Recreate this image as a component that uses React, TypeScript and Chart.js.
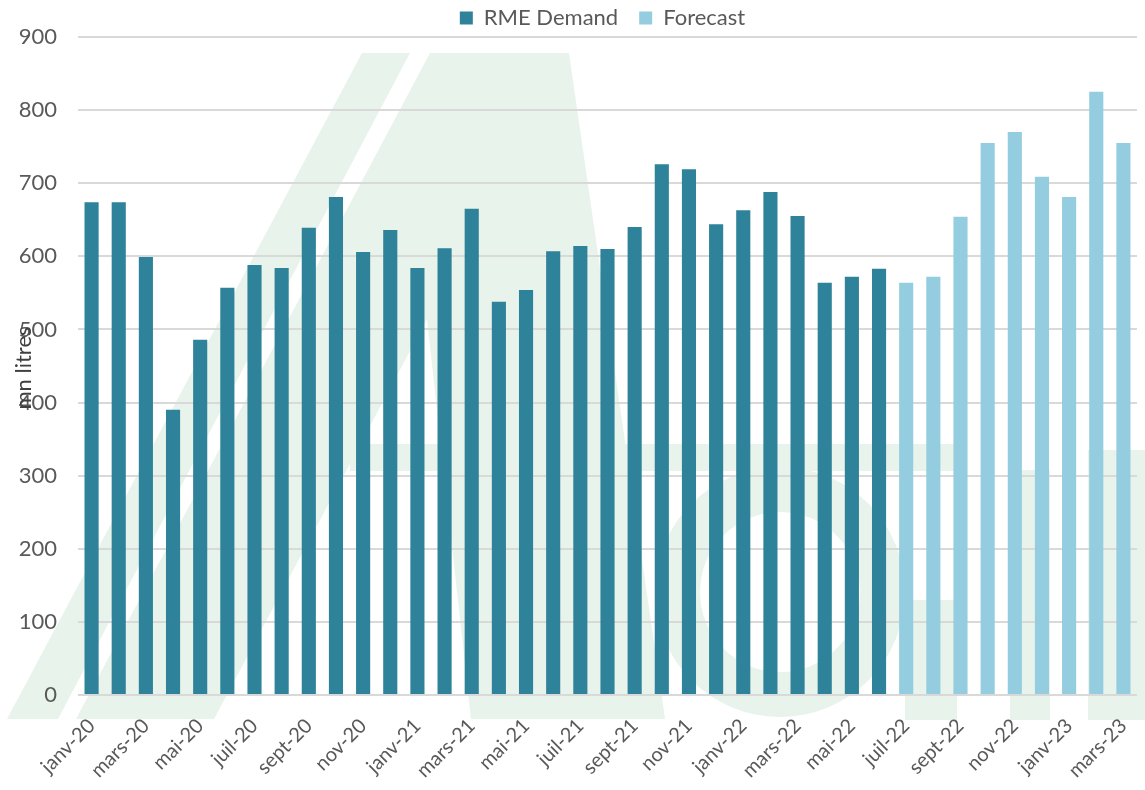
import React, { useEffect, useRef } from "react";
import { Chart, registerables } from "chart.js";

Chart.register(...registerables);

const months: string[] = [
  "janv-20", "févr-20", "mars-20", "avr-20", "mai-20", "juin-20",
  "juil-20", "août-20", "sept-20", "oct-20", "nov-20", "déc-20",
  "janv-21", "févr-21", "mars-21", "avr-21", "mai-21", "juin-21",
  "juil-21", "août-21", "sept-21", "oct-21", "nov-21", "déc-21",
  "janv-22", "févr-22", "mars-22", "avr-22", "mai-22", "juin-22",
  "juil-22", "août-22", "sept-22", "oct-22", "nov-22", "déc-22",
  "janv-23", "févr-23", "mars-23",
];

const demandValues: (number | null)[] = [
  674, 674, 599, 390, 486, 557, 588, 584, 639, 681, 606, 636,
  584, 611, 665, 538, 554, 607, 614, 610, 640, 726, 719, 644,
  663, 688, 655, 564, 572, 583,
  null, null, null, null, null, null, null, null, null,
];

const forecastValues: (number | null)[] = [
  null, null, null, null, null, null, null, null, null, null, null, null,
  null, null, null, null, null, null, null, null, null, null, null, null,
  null, null, null, null, null, null,
  564, 572, 654, 755, 770, 709, 681, 825, 755,
];

const yTicks = { min: 0, max: 900, step: 100 };
const yTitle = "mn litres";

const FONT = "Lato, 'Noto Sans', sans-serif";
const TEXT = "#595959";

const watermarkPlugin = {
  id: "watermark",
  beforeDraw(chart: any) {
    const ctx = chart.ctx;
    ctx.save();
    ctx.fillStyle = "#E8F3EB";
    // left stripe
    ctx.beginPath();
    ctx.moveTo(362, 53);
    ctx.lineTo(410, 53);
    ctx.lineTo(58, 719);
    ctx.lineTo(7, 719);
    ctx.closePath();
    ctx.fill();
    // "A" shape
    ctx.beginPath();
    ctx.moveTo(430, 53);
    ctx.lineTo(569, 53);
    ctx.lineTo(665, 719);
    ctx.lineTo(471, 719);
    ctx.lineTo(427, 319);
    ctx.lineTo(214, 719);
    ctx.lineTo(76, 719);
    ctx.closePath();
    ctx.fill();
    // crossbar
    ctx.fillRect(350, 444, 605, 27);
    // ring
    ctx.beginPath();
    ctx.arc(780, 592, 125, 0, Math.PI * 2, false);
    ctx.arc(780, 592, 80, 0, Math.PI * 2, true);
    ctx.closePath();
    ctx.fill();
    // right side letters
    ctx.fillRect(905, 600, 52, 120);
    ctx.fillRect(1010, 470, 40, 250);
    ctx.fillRect(1088, 450, 57, 270);
    ctx.restore();
  },
};

const yTitlePlugin = {
  id: "yTitleOverlay",
  afterDraw(chart: any) {
    const ctx = chart.ctx;
    ctx.save();
    ctx.translate(24, 368);
    ctx.rotate(-Math.PI / 2);
    ctx.font = `22px ${FONT}`;
    ctx.fillStyle = "#404040";
    ctx.textAlign = "center";
    ctx.textBaseline = "middle";
    ctx.fillText(yTitle, 0, 0);
    ctx.restore();
  },
};

// moves the legend box up/right (keeps item spacing, bottom edge unchanged)
const legendShiftPlugin = {
  id: "legendShift",
  afterLayout(chart: any) {
    const l = chart.legend;
    if (!l) return;
    l.top -= 14;
    l.left += 34;
    l.right += 34;
  },
};

export default function App() {
  const canvasRef = useRef<HTMLCanvasElement | null>(null);

  useEffect(() => {
    document.body.style.margin = "0";
    const canvas = canvasRef.current;
    if (!canvas) return;
    const chart = new Chart(canvas, {
      type: "bar",
      data: {
        labels: months,
        datasets: [
          {
            label: "RME Demand",
            data: demandValues,
            backgroundColor: "#2E8299",
            grouped: false,
            barPercentage: 0.52,
            categoryPercentage: 1,
          } as any,
          {
            label: "Forecast",
            data: forecastValues,
            backgroundColor: "#93CDDF",
            grouped: false,
            barPercentage: 0.52,
            categoryPercentage: 1,
          } as any,
        ],
      },
      options: {
        animation: false,
        responsive: true,
        maintainAspectRatio: false,
        layout: { padding: { left: 0, right: 8, top: 0, bottom: 0 } },
        plugins: {
          legend: {
            position: "top",
            align: "center",
            maxHeight: 37,
            labels: {
              boxWidth: 13,
              boxHeight: 13,
              padding: 21,
              color: TEXT,
              font: { family: FONT, size: 22 },
            },
          } as any,
          tooltip: { enabled: false },
          title: { display: false },
        },
        scales: {
          x: {
            grid: { display: false, drawTicks: false },
            border: { display: false },
            ticks: {
              autoSkip: false,
              minRotation: 45,
              maxRotation: 45,
              padding: 19,
              color: TEXT,
              font: { family: FONT, size: 20 },
              callback: (_v: any, i: number) => (i % 2 === 0 ? months[i] : ""),
            },
            afterFit: (scale: any) => {
              scale.height = 95;
              scale.paddingLeft = 0;
              scale.paddingRight = 0;
            },
          },
          y: {
            min: yTicks.min,
            max: yTicks.max,
            grid: { color: "#D9D9D9", lineWidth: 2, drawTicks: false },
            border: { display: false },
            ticks: {
              stepSize: yTicks.step,
              padding: 21,
              color: TEXT,
              font: { family: FONT, size: 22 },
            },
            afterFit: (scale: any) => {
              scale.width = 78;
            },
          },
        },
      },
      plugins: [watermarkPlugin, yTitlePlugin, legendShiftPlugin],
    });
    return () => chart.destroy();
  }, []);

  return (
    <div style={{ position: "relative", width: "1145px", height: "790px" }}>
      <canvas ref={canvasRef} />
    </div>
  );
}
